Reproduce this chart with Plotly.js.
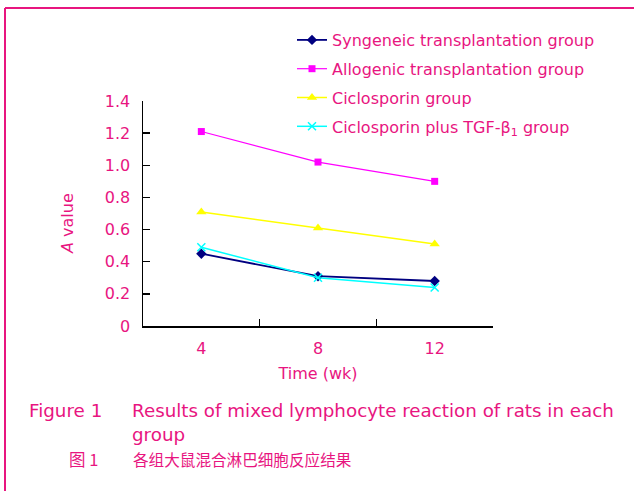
<!DOCTYPE html>
<html>
<head>
<meta charset="utf-8">
<script src="https://cdn.plot.ly/plotly-3.0.1.min.js"></script>
<style>
html,body{margin:0;padding:0;background:#fff;}
#chart{width:634px;height:491px;}
</style>
</head>
<body>
<div id="chart"></div>
<script>
const weeks = ["4", "8", "12"];
const seriesNames = [
  "Syngeneic transplantation group",
  "Allogenic transplantation group",
  "Ciclosporin group",
  "Ciclosporin plus TGF-β<sub>1</sub> group"
];
const syngeneic = [0.45, 0.31, 0.28];
const allogenic = [1.21, 1.02, 0.90];
const ciclosporin = [0.71, 0.61, 0.51];
const ciclosporinTGF = [0.49, 0.30, 0.24];
const yTickVals = [0, 0.2, 0.4, 0.6, 0.8, 1.0, 1.2, 1.4];
const yTickText = ["0", "0.2", "0.4", "0.6", "0.8", "1.0", "1.2", "1.4"];

const pink = "#E8157F";
const font = "DejaVu Sans, Liberation Sans, Arial, sans-serif";
const cjk = "Noto Sans CJK SC, sans-serif";

const L = 143, R = 493, T = 101, B = 326;
const px = x => (x - L) / (R - L);
const py = y => (B - y) / (B - T);

const traces = [
  {x: weeks, y: syngeneic, name: seriesNames[0], legendgroup: "g1", mode: "lines+markers",
   line: {color: "#000080", width: 1.8}, marker: {symbol: "diamond", size: 8, color: "#000080"}},
  {x: weeks, y: allogenic, name: seriesNames[1], legendgroup: "g2", mode: "lines+markers",
   line: {color: "#FF00FF", width: 1.2}, marker: {symbol: "square", size: 7, color: "#FF00FF"}},
  {x: weeks, y: ciclosporin, name: seriesNames[2], legendgroup: "g3", mode: "lines+markers",
   line: {color: "#FFFF00", width: 1.5}, marker: {symbol: "triangle-up", size: 9, color: "#FFFF00"}},
  {x: weeks, y: ciclosporinTGF, name: seriesNames[3], legendgroup: "g4", mode: "lines+markers",
   line: {color: "#00FFFF", width: 1.5}, marker: {symbol: "x-thin", size: 8, color: "#00FFFF", line: {color: "#00FFFF", width: 1.5}}}
];

const layout = {
  width: 634, height: 491,
  margin: {l: L, r: 634 - R, t: T, b: 491 - B},
  paper_bgcolor: "#fff", plot_bgcolor: "#fff",
  font: {family: font, size: 16, color: pink},
  showlegend: true,
  legend: {x: px(292), y: py(23), xanchor: "left", yanchor: "top",
           font: {family: font, size: 16, color: pink}, bgcolor: "rgba(0,0,0,0)",
           borderwidth: 0, tracegroupgap: 5, traceorder: "grouped"},
  xaxis: {
    type: "category", range: [-0.5, 2.5], tickson: "boundaries",
    showline: true, linecolor: "#000", linewidth: 1.5,
    ticks: "inside", ticklen: 7, tickcolor: "#000", tickwidth: 1.5,
    showgrid: false, zeroline: false,
    tickfont: {family: font, size: 16, color: pink},
    ticklabelstandoff: 7,
    title: {text: "Time (wk)", font: {family: font, size: 16, color: pink}, standoff: 11}
  },
  yaxis: {
    range: [0, 1.4], tickvals: yTickVals, ticktext: yTickText,
    showline: true, linecolor: "#000", linewidth: 1.5,
    ticks: "inside", ticklen: 7, tickcolor: "#000", tickwidth: 1.5,
    showgrid: false, zeroline: false,
    tickfont: {family: font, size: 16, color: pink},
    ticklabelstandoff: 8
  },
  shapes: [
    {type: "line", xref: "paper", yref: "paper", x0: px(5), x1: px(640), y0: py(8), y1: py(8),
     line: {color: pink, width: 2}},
    {type: "line", xref: "paper", yref: "paper", x0: px(5), x1: px(5), y0: py(8), y1: py(495),
     line: {color: pink, width: 2}}
  ],
  annotations: [
    {text: "<i>A</i> value", xref: "paper", yref: "paper", x: px(67), y: py(224), xanchor: "center", yanchor: "middle",
     textangle: -90, showarrow: false, font: {family: font, size: 16, color: pink}},
    {text: "Figure 1", xref: "paper", yref: "paper", x: px(27), y: py(410), xanchor: "left", yanchor: "middle",
     showarrow: false, font: {family: font, size: 18.3, color: pink}},
    {text: "Results of mixed lymphocyte reaction of rats in each", xref: "paper", yref: "paper",
     x: px(130), y: py(410), xanchor: "left", yanchor: "middle",
     showarrow: false, font: {family: font, size: 18.3, color: pink}},
    {text: "group", xref: "paper", yref: "paper", x: px(130), y: py(434), xanchor: "left", yanchor: "middle",
     showarrow: false, font: {family: font, size: 18.3, color: pink}},
    {text: "图 1", xref: "paper", yref: "paper", x: px(67), y: py(459), xanchor: "left", yanchor: "middle",
     showarrow: false, font: {family: cjk, size: 16.5, color: pink}},
    {text: "各组大鼠混合淋巴细胞反应结果", xref: "paper", yref: "paper", x: px(131), y: py(459), xanchor: "left", yanchor: "middle",
     showarrow: false, font: {family: cjk, size: 15.6, color: pink}}
  ]
};

Plotly.newPlot("chart", traces, layout, {displayModeBar: false, staticPlot: true});
</script>
</body>
</html>
